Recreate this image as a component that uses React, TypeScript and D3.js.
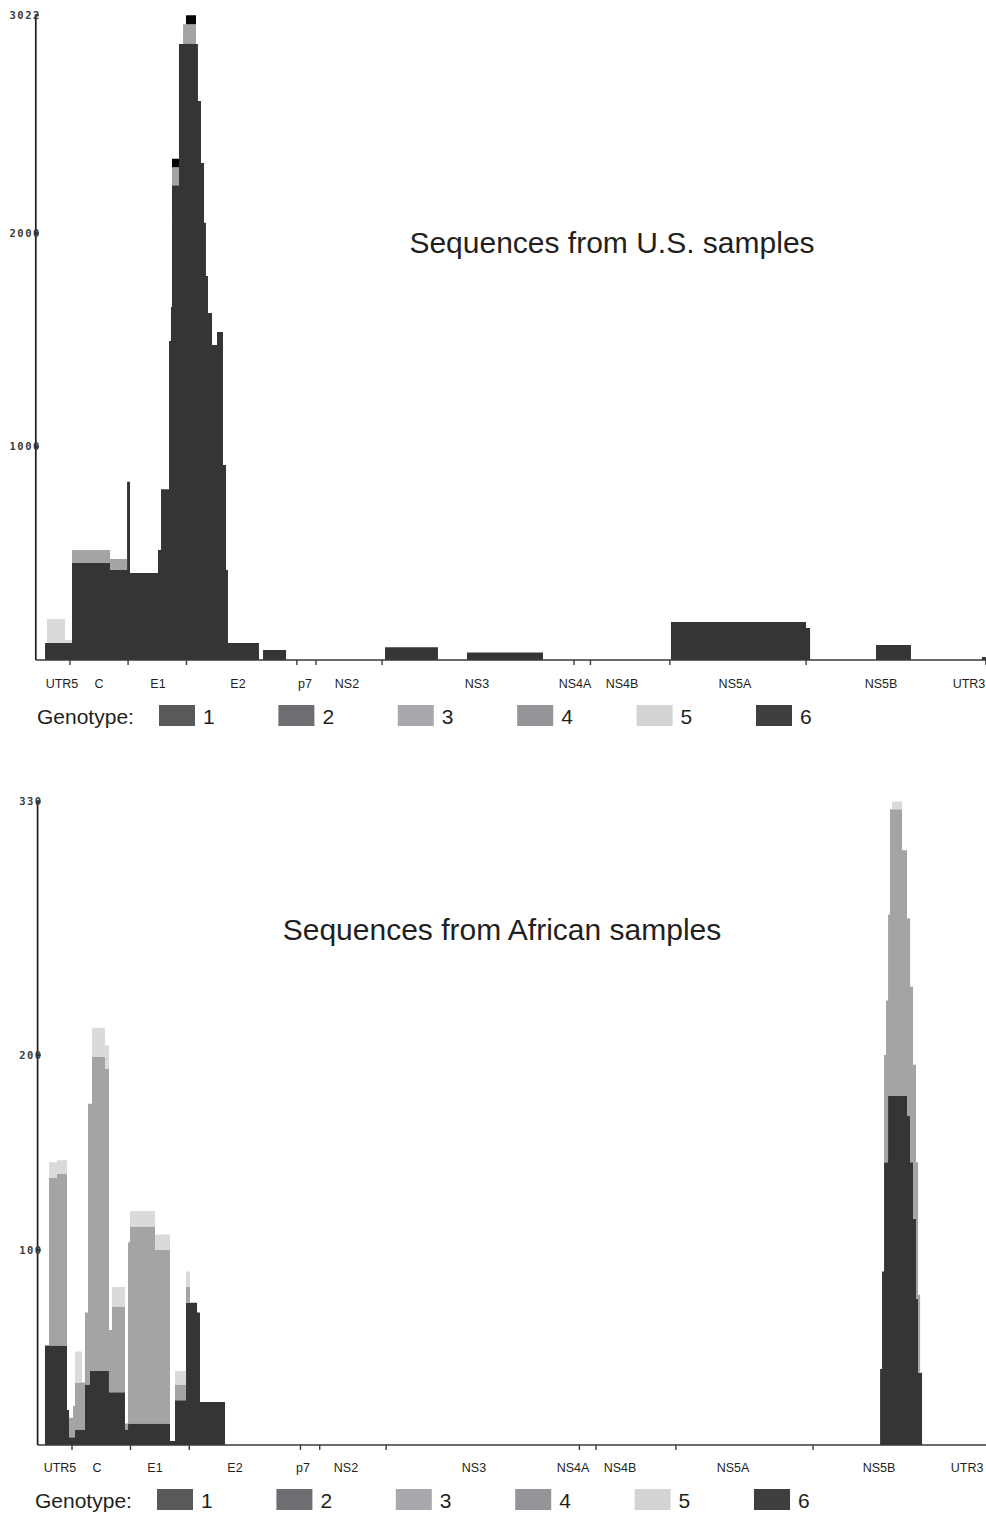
import React from "react";
import * as d3 from "d3";

// ---------- shared genome annotation ----------
const regionNames = ["UTR5", "C", "E1", "E2", "p7", "NS2", "NS3", "NS4A", "NS4B", "NS5A", "NS5B", "UTR3"];
const usRegionLabelNt = [263, 628, 1210, 1999, 2660, 3074, 4356, 5323, 5786, 6900, 8340, 9208];
const afRegionLabelNt = [224, 587, 1155, 1939, 2605, 3026, 4280, 5250, 5711, 6818, 8248, 9112];
const regionBoundaryNt = [342, 915, 1491, 2580, 2769, 3420, 5313, 5475, 6258, 7602, 9375];
const genomeEnd = 9375;

// ---------- legend ----------
const genotypeNames = ["1", "2", "3", "4", "5", "6"];
const legendColors = ["#58595b", "#6d6e71", "#a7a9ac", "#939598", "#d1d3d4", "#3f3f41"];

// ---------- U.S. samples ----------
const usYMax = 3022;
const usYTicks = [1000, 2000, 3022];
const usBinStart = [0, 96, 115, 293, 362, 737, 905, 934, 1210, 1240, 1319, 1338, 1348, 1417, 1457, 1486, 1585, 1604, 1634, 1664, 1683, 1703, 1743, 1792, 1851, 1881, 1900, 2206, 2246, 2473, 3449, 3971, 4257, 5007, 6269, 7601, 7641, 8291, 8636, 9336, 9375];
const usG1 = [0, 80, 80, 80, 455, 422, 835, 408, 516, 800, 1495, 1655, 2225, 2888, 2890, 2890, 2888, 2620, 2330, 2050, 1800, 1627, 1477, 1538, 914, 422, 80, 0, 47, 0, 60, 0, 35, 0, 178, 150, 0, 70, 0, 14, 0];
const usG3 = [0, 0, 0, 0, 61, 51, 0, 0, 0, 0, 0, 0, 85, 0, 90, 90, 0, 0, 0, 0, 0, 0, 0, 0, 0, 0, 0, 0, 0, 0, 0, 0, 0, 0, 0, 0, 0, 0, 0, 0, 0];
const usG5 = [0, 0, 112, 14, 0, 0, 0, 0, 0, 0, 0, 0, 0, 0, 0, 0, 0, 0, 0, 0, 0, 0, 0, 0, 0, 0, 0, 0, 0, 0, 0, 0, 0, 0, 0, 0, 0, 0, 0, 0, 0];
const usG6 = [0, 0, 0, 0, 0, 0, 0, 0, 0, 0, 0, 0, 40, 0, 0, 42, 0, 0, 0, 0, 0, 0, 0, 0, 0, 0, 0, 0, 0, 0, 0, 0, 0, 0, 0, 0, 0, 0, 0, 0, 0];

// ---------- African samples ----------
const afYMax = 330;
const afYTicks = [100, 200, 330];
const afBinStart = [0, 77, 117, 195, 293, 313, 352, 371, 440, 469, 499, 518, 538, 665, 704, 734, 861, 891, 910, 1155, 1302, 1351, 1459, 1498, 1567, 1596, 1841, 8259, 8278, 8298, 8317, 8337, 8356, 8376, 8474, 8523, 8553, 8582, 8611, 8631, 8651, 8670, 9375];
const afG1 = [0, 51, 51, 51, 18, 4, 4, 8, 8, 31, 31, 38, 38, 38, 27, 27, 8, 11, 11, 11, 2, 23, 73, 73, 68, 22, 0, 39, 89, 145, 145, 179, 179, 179, 179, 169, 145, 116, 75, 37, 37, 0, 0];
const afG3 = [0, 0, 86, 88, 0, 10, 16, 24, 24, 37, 144, 137, 161, 155, 32, 44, 3, 93, 101, 89, 0, 8, 8, 0, 0, 0, 0, 0, 0, 55, 83, 93, 147, 147, 126, 101, 90, 79, 70, 40, 0, 0, 0];
const afG5 = [0, 0, 8, 7, 0, 0, 0, 16, 0, 0, 0, 0, 15, 12, 0, 10, 0, 0, 8, 8, 0, 7, 8, 0, 0, 0, 0, 0, 0, 0, 0, 0, 0, 4, 0, 0, 0, 0, 0, 0, 0, 0, 0];

const fillColors: Record<string, string> = {
  g1: "#353535",
  g3: "#a4a4a4",
  g5: "#dadada",
  g6: "#050505",
};

const sans = "'Liberation Sans', Arial, Helvetica, sans-serif";
const mono = "'DejaVu Sans Mono', 'Liberation Mono', monospace";

type Series = { key: string; values: number[] };

type PanelProps = {
  binStart: number[];
  series: Series[];
  labelNt: number[];
  xRange: [number, number];
  yMax: number;
  yRange: [number, number];
  yTicks: number[];
  title: string;
  titleX: number;
  titleY: number;
  labelY: number;
  legendY: number;
  legendTextX: number;
  legendX0: number;
};

function Panel(p: PanelProps) {
  const x = d3.scaleLinear().domain([0, genomeEnd]).range(p.xRange);
  const y = d3.scaleLinear().domain([0, p.yMax]).range(p.yRange);
  const rows = p.binStart.map((pos, i) => {
    const r: any = { pos };
    p.series.forEach((s) => (r[s.key] = s.values[i]));
    return r;
  });
  const layers = d3.stack<any>().keys(p.series.map((s) => s.key))(rows);
  const area = d3
    .area<any>()
    .x((d) => x(d.data.pos))
    .y0((d) => y(d[0]))
    .y1((d) => y(d[1]))
    .curve(d3.curveStepAfter);
  const axisX = x(0) + 0.5;
  const base = y(0);
  const swatchStep = 119.4;
  return (
    <g>
      {layers.map((l) => (
        <path key={l.key} d={area(l) || ""} fill={fillColors[l.key]} stroke="none" />
      ))}
      {/* axes */}
      <line x1={axisX} x2={axisX} y1={y(p.yMax)} y2={base} stroke="#1e1e1e" strokeWidth={1.7} />
      <line x1={axisX} x2={986} y1={base} y2={base} stroke="#3a3a3a" strokeWidth={1.6} />
      {regionBoundaryNt.map((b) => (
        <line key={b} x1={x(b)} x2={x(b)} y1={base} y2={base + 5} stroke="#3a3a3a" strokeWidth={1.4} />
      ))}
      {p.yTicks.map((t) => (
        <g key={t}>
          <line x1={axisX - 1} x2={axisX + 3} y1={y(t)} y2={y(t)} stroke="#222" strokeWidth={2} />
          <text
            x={axisX + 5}
            y={y(t)}
            dy="0.35em"
            textAnchor="end"
            fontFamily={mono}
            fontWeight="bold"
            fontSize={10.5}
            letterSpacing={1.5}
            fill="#3a3a3a"
          >
            {t}
          </text>
        </g>
      ))}
      {regionNames.map((n, i) => (
        <text
          key={n}
          x={x(p.labelNt[i])}
          y={p.labelY}
          textAnchor="middle"
          fontFamily={sans}
          fontSize={12.5}
          fill="#231f20"
        >
          {n}
        </text>
      ))}
      <text x={p.titleX} y={p.titleY} textAnchor="middle" fontFamily={sans} fontSize={30} fill="#231f20">
        {p.title}
      </text>
      <text x={p.legendTextX} y={p.legendY} fontFamily={sans} fontSize={21} fill="#231f20">
        Genotype:
      </text>
      {genotypeNames.map((g, i) => (
        <g key={g}>
          <rect x={p.legendX0 + i * swatchStep} y={p.legendY - 19} width={36} height={21} fill={legendColors[i]} />
          <text x={p.legendX0 + i * swatchStep + 44} y={p.legendY} fontFamily={sans} fontSize={21} fill="#231f20">
            {g}
          </text>
        </g>
      ))}
    </g>
  );
}

export default function App() {
  return (
    <svg
      width={986}
      height={1515}
      viewBox="0 0 986 1515"
      style={{ position: "absolute", left: 0, top: 0, background: "#fff" }}
    >
      <rect x={0} y={0} width={986} height={1515} fill="#fff" />
      <Panel
        binStart={usBinStart}
        series={[
          { key: "g1", values: usG1 },
          { key: "g3", values: usG3 },
          { key: "g5", values: usG5 },
          { key: "g6", values: usG6 },
        ]}
        labelNt={usRegionLabelNt}
        xRange={[35.3, 985.9]}
        yMax={usYMax}
        yRange={[660, 15.3]}
        yTicks={usYTicks}
        title="Sequences from U.S. samples"
        titleX={612}
        titleY={253}
        labelY={688}
        legendY={724}
        legendTextX={37}
        legendX0={159}
      />
      <Panel
        binStart={afBinStart}
        series={[
          { key: "g1", values: afG1 },
          { key: "g3", values: afG3 },
          { key: "g5", values: afG5 },
        ]}
        labelNt={afRegionLabelNt}
        xRange={[37.1, 994]}
        yMax={afYMax}
        yRange={[1445, 801.5]}
        yTicks={afYTicks}
        title="Sequences from African samples"
        titleX={502}
        titleY={940}
        labelY={1472}
        legendY={1508}
        legendTextX={35}
        legendX0={157}
      />
    </svg>
  );
}
